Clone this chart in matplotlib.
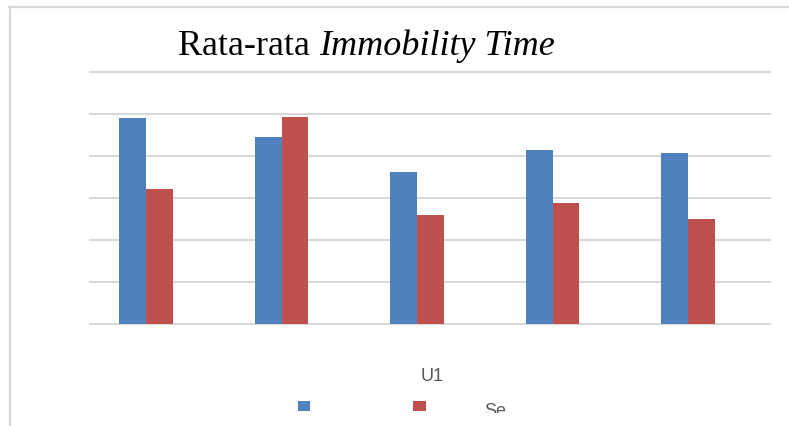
import matplotlib
matplotlib.use("Agg")
import matplotlib.pyplot as plt
import numpy as np
from matplotlib.lines import Line2D
from matplotlib.patches import Rectangle
from matplotlib.transforms import Bbox, TransformedBbox

# ---- data ----
categories = ["1", "2", "3", "4", "5"]
series_blue = [245, 223, 181, 207, 204]
series_red = [161, 247, 130, 144, 125]
legend_labels = ["", "Se"]
x_title = "U1"
title_regular = "Rata-rata "
title_italic = "Immobility Time"
y_ticks = [0, 50, 100, 150, 200, 250, 300]

BLUE = "#4F81BD"
RED = "#C0504D"
GRID = "#D9D9D9"
TXT = "#595959"

W, H = 789, 426
fig = plt.figure(figsize=(W / 100, H / 100), dpi=100)
fig.patch.set_facecolor("white")

def fx(px):
    return px / W

def fy(py):
    return 1 - py / H

# axes: x 90..770 px, y 72..324 px
ax = fig.add_axes([fx(90), fy(324), fx(770) - fx(90), fy(72) - fy(324)])
x = np.arange(len(categories))
bw = 0.196
ax.bar(x - bw / 2, series_blue, width=bw, color=BLUE, zorder=3)
ax.bar(x + bw / 2, series_red, width=bw, color=RED, zorder=3)
# group centres sit at 146 px + 135.5 px per category
ax.set_xlim((90 - 146) / 135.5, (770 - 146) / 135.5)
ax.set_ylim(y_ticks[0], y_ticks[-1])
ax.set_yticks(y_ticks)
ax.set_xticks([])
ax.tick_params(axis="y", length=0, labelleft=False)
for s in ax.spines.values():
    s.set_visible(False)
ax.yaxis.grid(True, color=GRID, linewidth=1.5, zorder=0)
ax.set_axisbelow(True)
for gl in ax.get_ygridlines():
    gl.set_clip_on(False)

# frame border (top and left)
fig.add_artist(Line2D([fx(9), 1.0], [fy(7), fy(7)], color=GRID, lw=1.6))
fig.add_artist(Line2D([fx(10), fx(10)], [fy(7), 0.0], color=GRID, lw=1.6))

# title with regular + italic part
t1 = fig.text(fx(178), fy(55), title_regular, fontsize=26,
              family="Liberation Serif", color="black", va="baseline", ha="left")
fig.canvas.draw()
r = fig.canvas.get_renderer()
bb = t1.get_window_extent(renderer=r)
fig.text(bb.x1 / W, fy(55), title_italic, fontsize=26, family="Liberation Serif",
         style="italic", color="black", va="baseline", ha="left")

# x-axis title
fig.text(fx(432), fy(381), x_title, fontsize=13, family="Liberation Sans",
         color=TXT, ha="center", va="baseline")

# legend
fig.add_artist(Rectangle((fx(298), fy(411)), fx(310) - fx(298), fy(401) - fy(411),
                         transform=fig.transFigure, color=BLUE, lw=0))
fig.add_artist(Rectangle((fx(413), fy(411)), fx(426) - fx(413), fy(401) - fy(411),
                         transform=fig.transFigure, color=RED, lw=0))
t_se = fig.text(fx(484), fy(416), legend_labels[1], fontsize=13, family="Liberation Sans",
                color=TXT, ha="left", va="baseline")
clip = TransformedBbox(Bbox([[0, fy(413)], [1, 1]]), fig.transFigure)
t_se.set_clip_box(clip)
t_se.set_clip_on(True)

fig.savefig("out.png", dpi=100, facecolor="white")
